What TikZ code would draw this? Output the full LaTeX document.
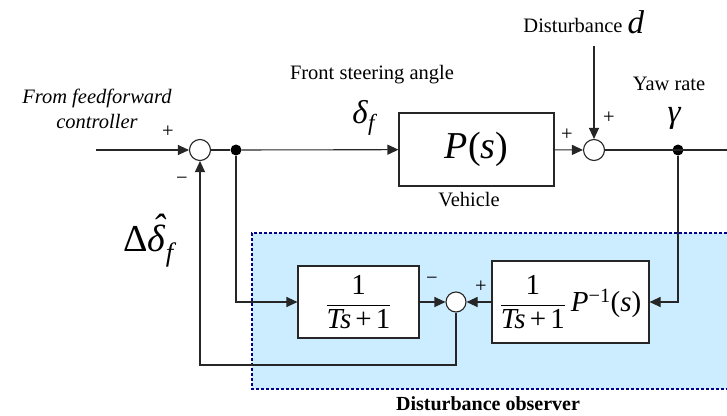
\documentclass[tikz,border=0pt]{standalone}
\usepackage{amsmath}
\usepackage{fontspec}
\setmainfont{Liberation Serif}
\usetikzlibrary{positioning,arrows.meta,calc}
\definecolor{obsfill}{RGB}{204,236,255}
\definecolor{obsdraw}{RGB}{0,0,140}
\colorlet{linecolor}{black!85}
\newcommand{\fsz}[1]{\fontsize{#1}{#1}\selectfont}

\begin{document}
\begin{tikzpicture}[x=1pt,y=-1pt,every node/.style={font=\fontsize{20.5}{25}\selectfont},
    sig/.style={draw=linecolor,line width=1.1pt},
    arr/.style={sig,-{Triangle[length=11pt,width=10pt]}},
    sumjn/.style={circle,draw=linecolor,line width=1.1pt,fill=white,minimum size=21pt,inner sep=0pt},
    branch/.style={circle,fill=black,minimum size=11pt,inner sep=0pt},
    blockbox/.style={draw=linecolor,line width=1.1pt,fill=white,inner sep=0pt}]
  \useasboundingbox (0,0) rectangle (727,415);
  % observer region
  \fill[obsfill] (252,233) rectangle (727,389);
  \draw[obsdraw,line width=2.4pt,dash pattern=on 3pt off 2pt] (727,233) -- (252,233) -- (252,389) -- (727,389);
  \node[font=\fontsize{20}{25}\selectfont\bfseries] (obs) at (488,404) {Disturbance observer};
  % blocks and junctions
  \node[sumjn] (s1) at (200,150) {};
  \node[branch] (j1) at (236,150) {};
  \node[blockbox,minimum width=155pt,minimum height=73pt,font=\fsz{38}] (P) at (476.5,149.5) {\textit{P}(\textit{s})};
  \node[sumjn] (s2) at (594,150) {};
  \node[branch] (j2) at (678,150) {};
  \node[blockbox,minimum width=121pt,minimum height=72pt,font=\fsz{29}] (F) at (358.5,302) {$\dfrac{\text{1}}{\textit{Ts}\,\text{+}\,\text{1}}$};
  \node[sumjn,minimum size=20pt] (s3) at (456,302) {};
  \node[blockbox,minimum width=157pt,minimum height=82pt,font=\fsz{29}] (Q) at (570.5,302) {$\dfrac{\text{1}}{\textit{Ts}\,\text{+}\,\text{1}}$\,\textit{P}\textsuperscript{−1}(\textit{s})};
  \coordinate (in) at (96,150);
  \coordinate (out) at (727,150);
  \coordinate (dtop) at (594,46);
  \coordinate (fb) at (200,365);
  % connectors
  \draw[arr] (in) -- (s1);
  \draw[sig] (s1) -- (j1);
  \draw[arr] (j1) -- (P);
  \draw[arr] (P) -- (s2);
  \draw[arr] (dtop) -- (s2);
  \draw[sig] (s2) -- (out);
  \draw[arr] (j1) |- (F);
  \draw[arr] (F) -- (s3);
  \draw[arr] (j2) |- (Q);
  \draw[arr] (Q) -- (s3);
  \draw[arr] (s3) |- (fb) -- (s1);
  % labels
  \node[align=center,font=\fontsize{20.5}{25}\selectfont\itshape] (ff) at (97,109) {From feedforward\\controller};
  \node (ffp) at (168,132) {+};
  \node (ffm) at (182,181) {−};
  \node (fsa) at (372,75) {Front steering angle};
  \node[font=\fsz{33}] (df) at (365,118) {\textit{δ}\textsubscript{\textit{f}}};
  \node (dist) at (573,25) {Disturbance};
  \node[font=\fsz{33}\itshape,anchor=west] (dd) at (624,22) {d};
  \node (pp) at (567,135) {+};
  \node (dp) at (609,118) {+};
  \node (yaw) at (669,84) {Yaw rate};
  \node[font=\fsz{33}\itshape] (gam) at (674,118) {γ};
  \node (veh) at (469,200) {Vehicle};
  \node[font=\fsz{38}] (dhat) at (150,241) {Δ\textit{\rlap{\raisebox{.28em}{\hspace{.14em}ˆ}}δ}\textsubscript{\textit{f}}};
  \node (fm) at (432,281) {−};
  \node (fp) at (481,287) {+};
\end{tikzpicture}
\end{document}
